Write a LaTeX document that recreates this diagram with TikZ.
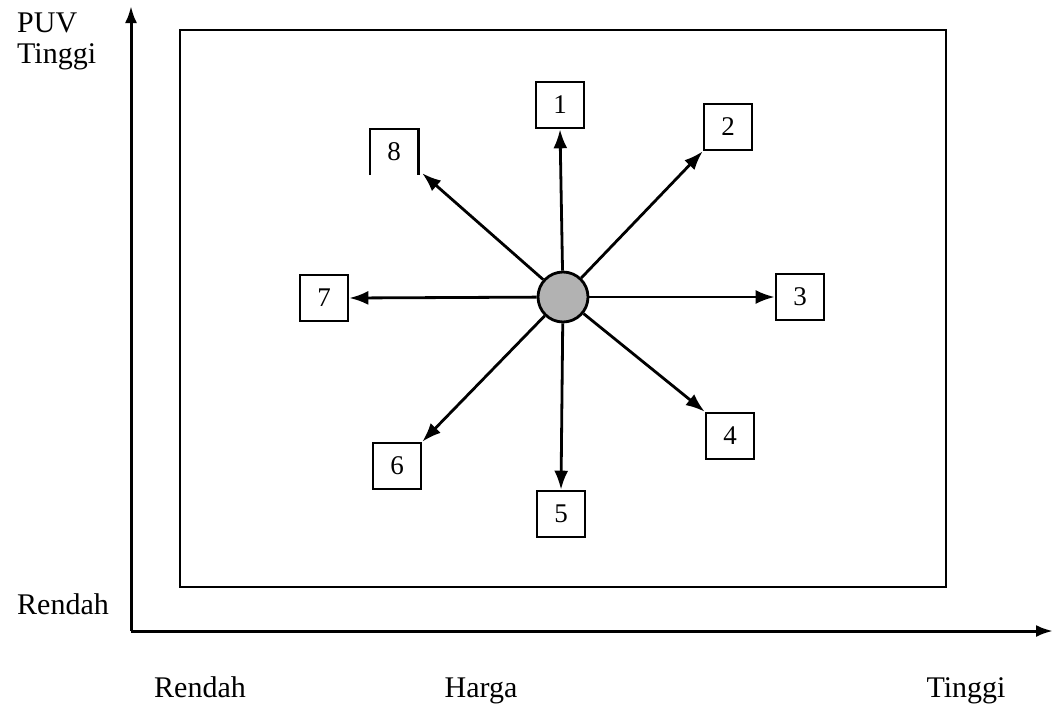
\documentclass[tikz,border=0pt]{standalone}
\usepackage{fontspec}
\setmainfont{Liberation Serif}
\usetikzlibrary{arrows.meta}
\begin{document}
\begin{tikzpicture}[x=1pt,y=-1pt,
  lbl/.style={font=\fontsize{30}{32}\selectfont, inner sep=0pt},
  numbox/.style={draw, line width=2.6pt, minimum width=48pt, minimum height=46pt, inner sep=0pt, font=\fontsize{27}{28}\selectfont},
  openbox/.style={minimum width=48pt, minimum height=46pt, inner sep=0pt, font=\fontsize{27}{28}\selectfont},
  ray/.style={line width=2.8pt, -{Latex[length=19pt,width=14pt]}},
  axis/.style={line width=3pt, -{Latex[length=17pt,width=12pt]}}]
\useasboundingbox (0,0) rectangle (1054,704);

% axes
\coordinate (o) at (131,631);
\coordinate (ytop) at (131,6);
\coordinate (xend) at (1053,631);
\draw[axis] (o) -- (ytop);
\draw[axis] (o) -- (xend);

% frame
\draw[line width=2.8pt] (180,30) rectangle (946,587);

% axis labels
\node[lbl, anchor=base west] (puv) at (17,32) {PUV};
\node[lbl, anchor=base west] (ytinggi) at (17,63) {Tinggi};
\node[lbl, anchor=base west] (yrendah) at (17,614) {Rendah};
\node[lbl, anchor=base] (xrendah) at (200,697) {Rendah};
\node[lbl, anchor=base] (harga) at (481,697) {Harga};
\node[lbl, anchor=base] (xtinggi) at (966,697) {Tinggi};

% centre
\node[circle, draw, line width=2.8pt, fill=gray!60, minimum size=50pt, inner sep=0pt] (c) at (563,297) {};

% numbered boxes
\node[numbox] (b1) at (560,105) {1};
\node[numbox] (b2) at (728,127) {2};
\node[numbox] (b3) at (800,297) {3};
\node[numbox] (b4) at (730,436) {4};
\node[numbox] (b5) at (561,514) {5};
\node[numbox] (b6) at (397,466) {6};
\node[numbox] (b7) at (324,298) {7};
\node[openbox] (b8) at (394,152) {8};
\draw[line width=2.6pt] (b8.south west) -- (b8.north west) -- (b8.north east) -- (b8.south east);

% rays
\draw[ray] (c) -- (b1.south);
\draw[ray] (c) -- (b2.south west);
\draw[ray] (c) -- (b3.west);
\draw[ray] (c) -- (b4.north west);
\draw[ray] (c) -- (b5.north);
\draw[ray] (c) -- (b6.north east);
\draw[ray] (c) -- (b7.east);
\draw[ray] (c) -- ([xshift=4pt,yshift=2pt]b8.south east);
\end{tikzpicture}
\end{document}
